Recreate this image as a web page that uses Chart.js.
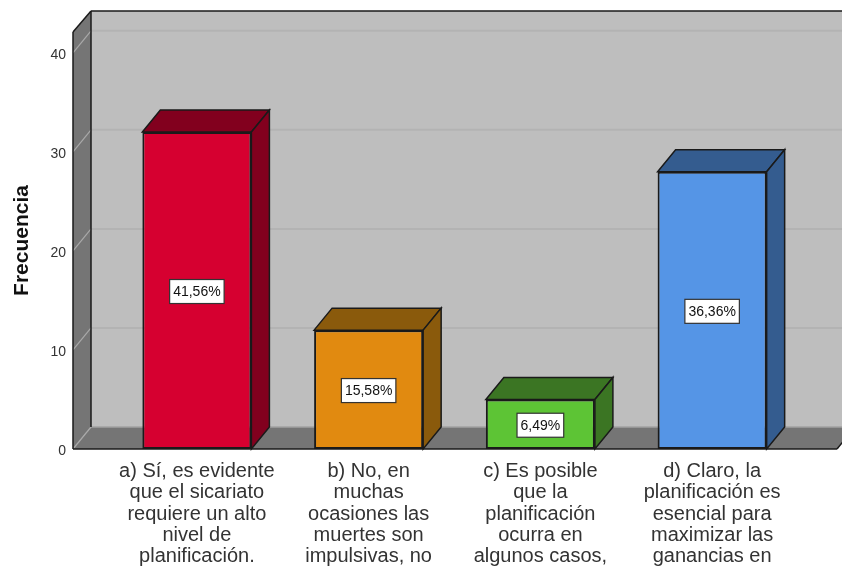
<!DOCTYPE html>
<html lang="es">
<head>
<meta charset="utf-8">
<title>Frecuencia</title>
<script src="https://cdn.jsdelivr.net/npm/chart.js@4"></script>
<style>
    html, body { margin: 0; padding: 0; background: #fff; overflow: hidden; }
    canvas { display: block; }
</style>
</head>
<body>
<canvas id="chart" width="842" height="566"></canvas>
<script>
const categories = [
    ['a) Sí, es evidente', 'que el sicariato', 'requiere un alto', 'nivel de', 'planificación.'],
    ['b) No, en', 'muchas', 'ocasiones las', 'muertes son', 'impulsivas, no'],
    ['c) Es posible', 'que la', 'planificación', 'ocurra en', 'algunos casos,'],
    ['d) Claro, la', 'planificación es', 'esencial para', 'maximizar las', 'ganancias en']
];
const frequencies = [32, 12, 5, 28];
const percentLabels = ['41,56%', '15,58%', '6,49%', '36,36%'];
const frontColors = ['#d60030', '#e18a10', '#5dc435', '#5595e6'];
const shadeColors = ['#82001e', '#8a5a0c', '#3b7523', '#345c8f'];
const yTicks = [0, 10, 20, 30, 40];

const FONT = '"Liberation Sans", Arial, sans-serif';
const DEPTH_X = 18;
const DEPTH_Y = 22;
const OUTLINE = '#1a1a1a';

function polygon(ctx, points, fill, stroke, lineWidth) {
    ctx.beginPath();
    points.forEach((p, i) => (i ? ctx.lineTo(p[0], p[1]) : ctx.moveTo(p[0], p[1])));
    ctx.closePath();
    if (fill) {
        ctx.fillStyle = fill;
        ctx.fill();
    }
    if (stroke) {
        ctx.strokeStyle = stroke;
        ctx.lineWidth = lineWidth || 1.5;
        ctx.stroke();
    }
}

function line(ctx, x1, y1, x2, y2, color, width) {
    ctx.beginPath();
    ctx.moveTo(x1, y1);
    ctx.lineTo(x2, y2);
    ctx.strokeStyle = color;
    ctx.lineWidth = width;
    ctx.stroke();
}

// the room behind the bars: back wall, left wall and floor
const roomPlugin = {
    id: 'room',
    beforeDatasetsDraw(chart) {
        const { ctx, chartArea, scales } = chart;
        const left = chartArea.left - 38;
        const right = chartArea.right + 39;
        const top = chartArea.top;
        const bottom = chartArea.bottom;
        const farRight = chart.width + 20;

        ctx.save();
        polygon(ctx, [[left + DEPTH_X, top - DEPTH_Y + 1], [farRight, top - DEPTH_Y + 1], [farRight, bottom - DEPTH_Y], [left + DEPTH_X, bottom - DEPTH_Y]], '#bebebe');
        polygon(ctx, [[left, top], [left + DEPTH_X, top - DEPTH_Y + 1], [left + DEPTH_X, bottom - DEPTH_Y], [left, bottom]], '#757575');
        polygon(ctx, [[left, bottom], [right, bottom], [right + DEPTH_X, bottom - DEPTH_Y], [left + DEPTH_X, bottom - DEPTH_Y]], '#757575');

        yTicks.forEach((value) => {
            const y = scales.y.getPixelForValue(value);
            line(ctx, left, y, left + DEPTH_X, y - DEPTH_Y, '#a9a9a9', 1.2);
            if (value > 0) {
                line(ctx, left + DEPTH_X, y - DEPTH_Y, farRight, y - DEPTH_Y, '#b3b3b3', 2);
            }
        });
        line(ctx, left + DEPTH_X, bottom - DEPTH_Y, farRight, bottom - DEPTH_Y, '#a2a2a2', 1.5);

        line(ctx, left, top, left, bottom, OUTLINE, 1.5);
        line(ctx, left, top, left + DEPTH_X, top - DEPTH_Y + 1, OUTLINE, 1.5);
        line(ctx, left + DEPTH_X, top - DEPTH_Y + 1, farRight, top - DEPTH_Y + 1, OUTLINE, 1.5);
        line(ctx, left + DEPTH_X, top - DEPTH_Y + 1, left + DEPTH_X, bottom - DEPTH_Y, OUTLINE, 1.5);
        line(ctx, left, bottom, right, bottom, OUTLINE, 1.5);
        line(ctx, right, bottom, right + DEPTH_X, bottom - DEPTH_Y, OUTLINE, 1.5);

        // top and side of each bar, the front comes from the dataset
        chart.getDatasetMeta(0).data.forEach((bar, i) => {
            const half = bar.width / 2;
            const x1 = bar.x - half;
            const x2 = bar.x + half;
            polygon(ctx, [[x1, bar.y], [x2, bar.y], [x2 + DEPTH_X, bar.y - DEPTH_Y], [x1 + DEPTH_X, bar.y - DEPTH_Y]], shadeColors[i], OUTLINE);
            polygon(ctx, [[x2, bar.y], [x2 + DEPTH_X, bar.y - DEPTH_Y], [x2 + DEPTH_X, bar.base - DEPTH_Y], [x2, bar.base]], shadeColors[i], OUTLINE);
        });
        ctx.restore();
    }
};

const percentPlugin = {
    id: 'percentBoxes',
    afterDatasetsDraw(chart) {
        const { ctx } = chart;
        ctx.save();
        ctx.font = '14px ' + FONT;
        ctx.textAlign = 'center';
        ctx.textBaseline = 'middle';
        chart.getDatasetMeta(0).data.forEach((bar, i) => {
            const text = percentLabels[i];
            const width = ctx.measureText(text).width + 7;
            const height = 24;
            const y = (bar.y + bar.base) / 2 + 1;
            ctx.fillStyle = '#fff';
            ctx.strokeStyle = '#333';
            ctx.lineWidth = 1.2;
            ctx.fillRect(bar.x - width / 2, y - height / 2, width, height);
            ctx.strokeRect(bar.x - width / 2, y - height / 2, width, height);
            ctx.fillStyle = '#111';
            ctx.fillText(text, bar.x, y + 1);
        });
        ctx.restore();
    }
};

new Chart(document.getElementById('chart'), {
    type: 'bar',
    data: {
        labels: categories,
        datasets: [{
            label: 'Frecuencia',
            data: frequencies,
            backgroundColor: frontColors,
            borderColor: OUTLINE,
            borderWidth: 2,
            borderSkipped: false,
            barPercentage: 1,
            categoryPercentage: 0.635
        }]
    },
    plugins: [roomPlugin, percentPlugin],
    options: {
        responsive: false,
        animation: false,
        devicePixelRatio: 1,
        layout: { padding: { top: 32, right: 44, left: 0, bottom: 0 } },
        plugins: {
            legend: { display: false },
            tooltip: { enabled: false }
        },
        scales: {
            x: {
                grid: { display: false },
                border: { display: false },
                afterFit(scale) { scale.height = 117; },
                ticks: {
                    color: '#333',
                    padding: 4,
                    maxRotation: 0,
                    autoSkip: false,
                    font: { family: FONT, size: 20, lineHeight: 1.065 }
                }
            },
            y: {
                min: 0,
                max: 42.1,
                // long invisible tick keeps the labels away from the side wall
                grid: { display: false, drawTicks: true, tickLength: 45 },
                border: { display: false },
                afterFit(scale) { scale.width = 111; },
                afterBuildTicks(scale) { scale.ticks = yTicks.map((value) => ({ value })); },
                title: {
                    display: true,
                    text: 'Frecuencia',
                    color: '#111',
                    font: { family: FONT, size: 21, weight: 'bold' },
                    padding: { top: 10, bottom: 0 }
                },
                ticks: {
                    padding: 0,
                    labelOffset: 2,
                    color: '#333',
                    font: { family: FONT, size: 14 }
                }
            }
        }
    }
});
</script>
</body>
</html>
